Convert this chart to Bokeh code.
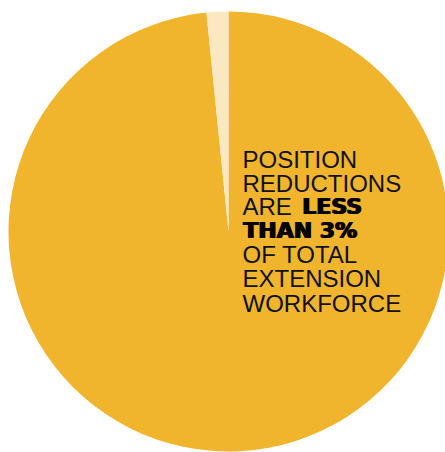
import math
from bokeh.plotting import figure
from bokeh.models import Range1d, ColumnDataSource
from bokeh.core.properties import value
from bokeh.embed import file_html
from bokeh.resources import INLINE

# Data
categories = ["Remaining workforce", "Position reductions"]
shares = [98.4, 1.6]
colors = ["#F0B52C", "#FBE7C0"]

regular_lines = ["POSITION", "REDUCTIONS", "ARE", "OF TOTAL", "EXTENSION", "WORKFORCE"]
bold_parts = ["LESS", "THAN 3%"]

W, H = 445, 452
p = figure(width=W, height=H, output_backend="svg", toolbar_location=None,
           x_range=Range1d(0, W), y_range=Range1d(0, H), min_border=0)
p.axis.visible = False
p.grid.visible = False
p.outline_line_color = None
p.background_fill_color = "white"
p.border_fill_color = "white"

cx, cy, r = 228, H - 231, 220
total = sum(shares)
a = math.pi / 2
order = [1, 0]
ang = {}
for i in order:
    span = 2 * math.pi * shares[i] / total
    ang[i] = (a, a + span)
    a += span
src = ColumnDataSource(dict(
    x=[cx] * 2, y=[cy] * 2,
    start=[ang[i][0] for i in range(2)],
    end=[ang[i][1] for i in range(2)],
    color=colors, cat=categories))
p.wedge(x="x", y="y", radius=r, start_angle="start", end_angle="end",
        fill_color="color", line_color=None, source=src)

# Text block
tx = 242
shift = -7
base = [166, 190, 213, 261, 285, 310]
p.text(x=[tx] * len(regular_lines), y=[H - b - shift for b in base], text=regular_lines,
       text_font=value("Liberation Sans"), text_font_size="24px",
       text_color="#111111", text_baseline="alphabetic", text_align="left")
for dx in (0, 0.8, 1.6):
    p.text(x=[301 + dx, tx + dx], y=[H - 213 - shift, H - 237 - shift], text=bold_parts,
           text_font=value("DejaVu Sans"), text_font_style="bold", text_font_size="22px",
           text_color="#000000", text_baseline="alphabetic", text_align="left")

open("out.html", "w").write(file_html(p, INLINE))
